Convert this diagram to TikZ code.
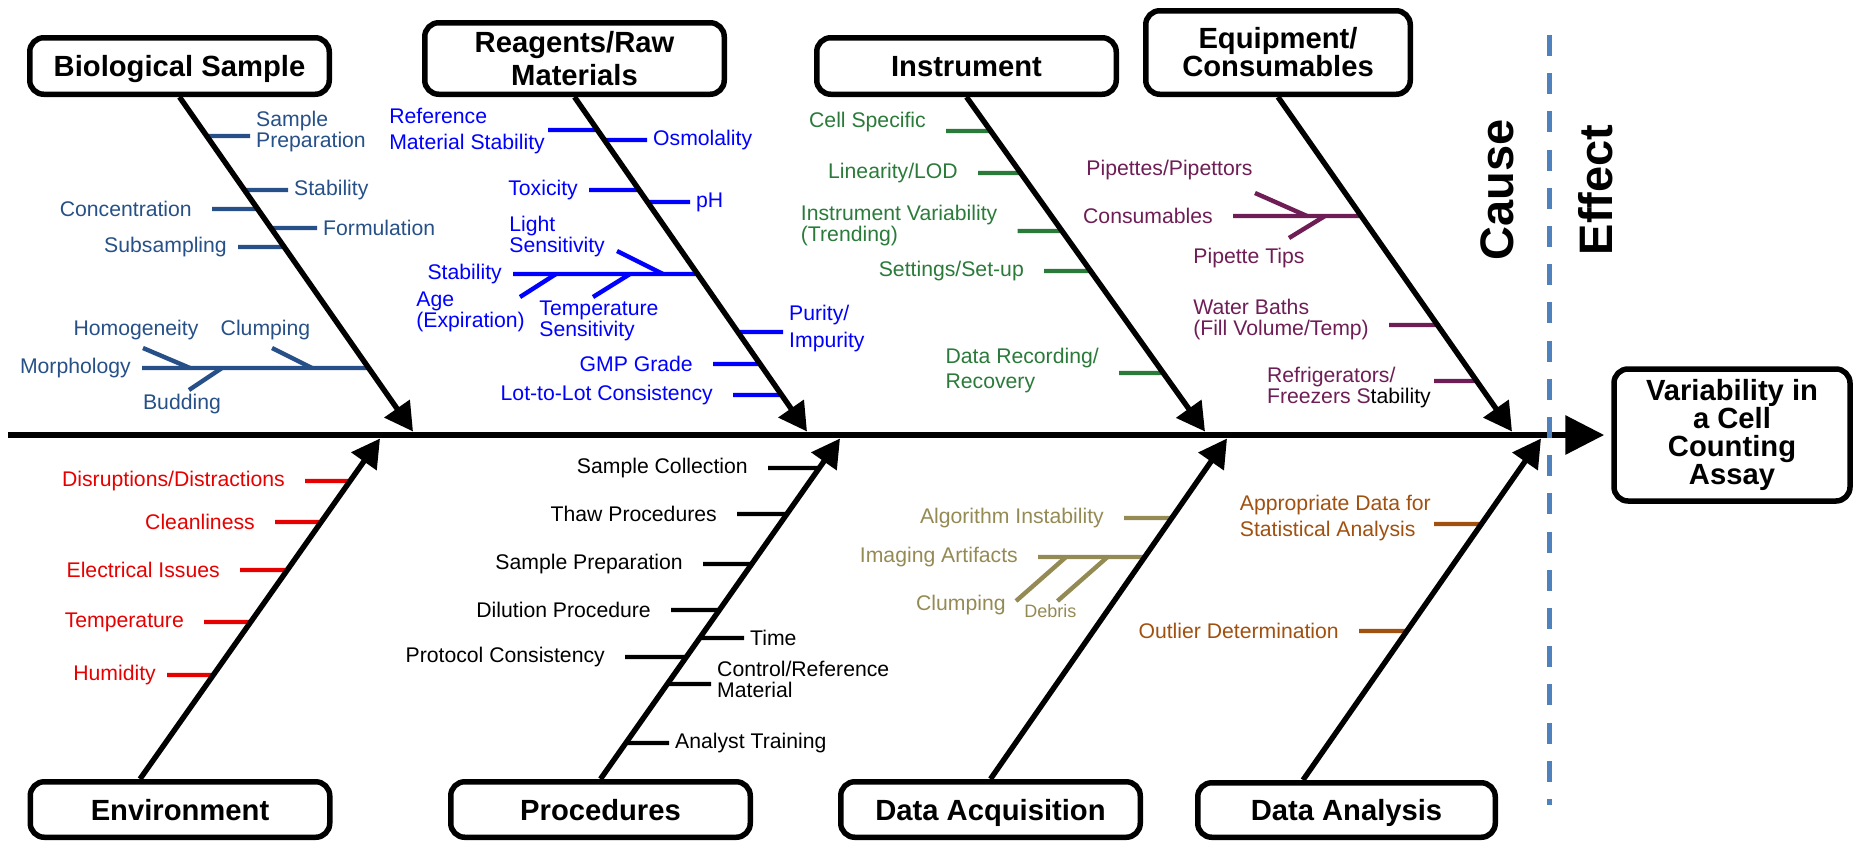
\documentclass[tikz,border=0pt]{standalone}
\usepackage{fontspec}
\setmainfont{Liberation Sans}
\usetikzlibrary{arrows.meta,calc}
\definecolor{bioC}{RGB}{38,80,135}
\definecolor{reagC}{RGB}{0,0,255}
\definecolor{instC}{RGB}{42,122,58}
\definecolor{equipC}{RGB}{110,30,85}
\definecolor{envC}{RGB}{230,0,0}
\definecolor{acqC}{RGB}{148,138,84}
\definecolor{anaC}{RGB}{160,80,15}
\definecolor{dashC}{RGB}{79,129,189}
\tikzset{
    cat/.style={
        draw, line width=2.75pt, rounded corners=7pt, align=center, inner sep=0pt,
        font=\bfseries\fontsize{14.6}{14}\selectfont,
        minimum width=149.75pt, minimum height=28.25pt
    },
    cat1/.style={cat, text depth=0pt},
    bone/.style={line width=2.7pt, -{Triangle[length=14pt,width=15pt]}},
    tick/.style={line width=2.2pt},
    lbl/.style={inner sep=0pt, align=left, font=\fontsize{10.6}{10.5}\selectfont},
    L/.style={anchor=east, inner xsep=9pt},
    Lm/.style={anchor=east, inner xsep=4.5pt},
    Ln/.style={anchor=east, inner xsep=0.5pt},
    R/.style={anchor=west, inner xsep=2pt}
}

\begin{document}
\begin{tikzpicture}[x=0.5pt, y=-0.5pt]
    \useasboundingbox (0,0) rectangle (1854,842);

    % category boxes
    \node[cat1] (bio) at (179.5,66) {Biological Sample};
    \node[cat, minimum height=35.75pt, font=\bfseries\fontsize{14.6}{16.5}\selectfont] (reag) at (574.5,58.5) {Reagents/Raw\\Materials};
    \node[cat1] (inst) at (966.5,66) {Instrument};
    \node[cat, minimum width=132.25pt, minimum height=41.75pt] (equip) at (1278,52.5) {Equipment/\\Consumables};
    \node[cat1, minimum height=27.75pt] (env) at (180,809.5) {Environment};
    \node[cat1, minimum height=27.75pt] (proc) at (600.5,809.5) {Procedures};
    \node[cat1, minimum height=27.75pt] (acq) at (990.5,809.5) {Data Acquisition};
    \node[cat1, minimum width=148.75pt, minimum height=27.25pt] (ana) at (1346.5,810) {Data Analysis};
    \node[cat, minimum width=118pt, minimum height=66pt] (effect) at (1732,435) {Variability in\\a Cell\\Counting\\Assay};

    \node[rotate=90, font=\bfseries\fontsize{23.5}{23.5}\selectfont] (cause) at (1497,190) {Cause};
    \node[rotate=90, font=\bfseries\fontsize{23.5}{23.5}\selectfont] (effct) at (1596,190) {Effect};

    % bone ends
    \coordinate (s1) at (bio.south);
    \coordinate (s2) at (reag.south);
    \coordinate (s3) at (inst.south);
    \coordinate (s4) at (equip.south);
    \coordinate (s5) at ([xshift=-20pt]env.north);
    \coordinate (s6) at (proc.north);
    \coordinate (s7) at (acq.north);
    \coordinate (s8) at ([xshift=-21.75pt]ana.north);
    \coordinate (t1) at (413,431.5);
    \coordinate (t2) at (807,431.5);
    \coordinate (t3) at (1205,431.5);
    \coordinate (t4) at (1512,431.5);
    \coordinate (t5) at (380,438.5);
    \coordinate (t6) at (840,438.5);
    \coordinate (t7) at (1227,438.5);
    \coordinate (t8) at (1541,438.5);
    \coordinate (tail) at (8,435);

    % Biological Sample
    \foreach \y/\x/\st/\dy/\txt in {
        136/250/R/2.25/{Sample\\Preparation},
        190/288/R/0/{Stability},
        209/212/L/0/{Concentration},
        228/317/R/0/{Formulation},
        247/238/Lm/0/{Subsampling},
        368/142/Lm/0/{Morphology}}
        \draw[tick, bioC] (\x,\y) node[lbl, \st, yshift=\dy pt] {\txt} -- (intersection of s1--t1 and 0,\y--10,\y);
    \node[lbl, bioC] (homog) at (136,330) {Homogeneity};
    \node[lbl, bioC] (clumpa) at (265.5,330) {Clumping};
    \node[lbl, bioC] (budd) at (182,404) {Budding};
    \draw[tick, bioC] (143,348) -- (190,368);
    \draw[tick, bioC] (272,348) -- (312,368);
    \draw[tick, bioC] (189,390) -- (222,368);

    % Reagents/Raw Materials
    \foreach \y/\x/\st/\dy/\txt in {
        130/548/Ln/-0.5/{Reference\\[2.5pt]Material Stability},
        140/647/R/0/{Osmolality},
        190/589/Lm/0/{Toxicity},
        202/690/R/0/{pH},
        274/513/Lm/0/{Stability},
        332/783/R/1.75/{Purity/\\[3pt]Impurity},
        364/713/L/0/{GMP Grade},
        395/733/L/0/{Lot-to-Lot Consistency}}
        \draw[tick, reagC] (\x,\y) node[lbl, \st, yshift=\dy pt] {\txt} -- (intersection of s2--t2 and 0,\y--10,\y);
    \node[lbl, reagC, anchor=west] (light) at (509,236.5) {Light\\Sensitivity};
    \node[lbl, reagC, anchor=west] (age) at (416,312) {Age\\(Expiration)};
    \node[lbl, reagC, anchor=west] (temps) at (539,320.5) {Temperature\\Sensitivity};
    \draw[tick, reagC] (617,251) -- (663,274);
    \draw[tick, reagC] (520,297) -- (556,274);
    \draw[tick, reagC] (593,297) -- (630,274);

    % Instrument
    \foreach \y/\x/\st/\dy/\txt in {
        131/946/L/4.5/{Cell Specific},
        173/978/L/0/{Linearity/LOD},
        231/1017.5/L/2.75/{Instrument Variability\\(Trending)},
        271/1044/L/0/{Settings/Set-up},
        373/1119/L/1.25/{Data Recording/\\[2pt]Recovery}}
        \draw[tick, instC] (\x,\y) node[lbl, \st, yshift=\dy pt] {\txt} -- (intersection of s3--t3 and 0,\y--10,\y);

    % Equipment/Consumables
    \foreach \y/\x/\st/\dy/\txt in {
        216/1233/L/0/{Consumables},
        325/1389/L/2.5/{Water Baths\\(Fill Volume/Temp)},
        381/1434/Ln/-3.5/{Refrigerators/\\Freezers S\textcolor{black}{tability}}}
        \draw[tick, equipC] (\x,\y) node[lbl, \st, yshift=\dy pt] {\txt} -- (intersection of s4--t4 and 0,\y--10,\y);
    \node[lbl, equipC, anchor=west] (pipet) at (1086,170) {Pipettes/Pipettors};
    \node[lbl, equipC, anchor=west] (tips) at (1193,258) {Pipette Tips};
    \draw[tick, equipC] (1255,193) -- (1307,216);
    \draw[tick, equipC] (1289,238) -- (1325,216);

    % Environment
    \foreach \y/\x/\st/\dy/\txt in {
        481/305/L/0/{Disruptions/Distractions},
        522/275/L/0/{Cleanliness},
        570/240/L/0/{Electrical Issues},
        622/204/L/0/{Temperature},
        675/167/Lm/0/{Humidity}}
        \draw[tick, envC] (\x,\y) node[lbl, \st, yshift=\dy pt] {\txt} -- (intersection of s5--t5 and 0,\y--10,\y);

    % Procedures
    \foreach \y/\x/\st/\dy/\txt in {
        468/768/L/0/{Sample Collection},
        514/737/L/0/{Thaw Procedures},
        564/703/L/0/{Sample Preparation},
        610/671/L/0/{Dilution Procedure},
        638/744/R/0/{Time},
        657/625/L/0/{Protocol Consistency},
        684/711/R/2.5/{Control/Reference\\Material},
        743/669/R/0/{Analyst Training}}
        \draw[tick, black] (\x,\y) node[lbl, \st, yshift=\dy pt] {\txt} -- (intersection of s6--t6 and 0,\y--10,\y);

    % Data Acquisition
    \foreach \y/\x/\st/\dy/\txt in {
        518/1124/L/0/{Algorithm Instability},
        557/1038/L/0/{Imaging Artifacts}}
        \draw[tick, acqC] (\x,\y) node[lbl, \st, yshift=\dy pt] {\txt} -- (intersection of s7--t7 and 0,\y--10,\y);
    \node[lbl, acqC, anchor=east] (clumpb) at (1006,605) {Clumping};
    \node[lbl, acqC, anchor=west, font=\fontsize{9}{9}\selectfont] (debris) at (1024,611) {Debris};
    \draw[tick, acqC] (1016,601) -- (1066,557);
    \draw[tick, acqC] (1057.5,601) -- (1107.5,557);

    % Data Analysis
    \foreach \y/\x/\st/\dy/\txt in {
        524/1434/Ln/3/{Appropriate Data for\\[2.5pt]Statistical Analysis},
        631/1359/L/0/{Outlier Determination}}
        \draw[tick, anaC] (\x,\y) node[lbl, \st, yshift=\dy pt] {\txt} -- (intersection of s8--t8 and 0,\y--10,\y);

    % spine and bones
    \draw[line width=3.25pt, -{Triangle[length=19.5pt,width=19pt]}, shorten >=3.5pt] (tail) -- (effect.west);
    \foreach \i in {1,...,8}
        \draw[bone] (s\i) -- (t\i);

    % cause / effect divider
    \draw[dashC, line width=2.5pt, dash pattern=on 10.5pt off 8.6pt] (1549,35) -- (1549,805);
\end{tikzpicture}
\end{document}
